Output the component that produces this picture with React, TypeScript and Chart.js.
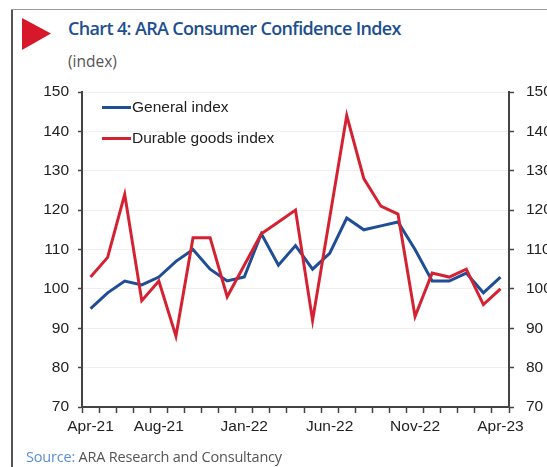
import React, { useEffect, useRef } from "react";
import { Chart, registerables } from "chart.js";

Chart.register(...registerables);

const months = [
  "Apr-21", "May-21", "Jun-21", "Jul-21", "Aug-21", "Sep-21", "Oct-21", "Nov-21", "Dec-21",
  "Jan-22", "Feb-22", "Mar-22", "Apr-22", "May-22", "Jun-22", "Jul-22", "Aug-22", "Sep-22",
  "Oct-22", "Nov-22", "Dec-22", "Jan-23", "Feb-23", "Mar-23", "Apr-23",
];
const shownMonthLabels = ["Apr-21", "Aug-21", "Jan-22", "Jun-22", "Nov-22", "Apr-23"];
const generalIndex = [
  95, 99, 102, 101, 103, 107, 110, 105, 102, 103, 114, 106, 111, 105, 109, 118, 115, 116,
  117, 110, 102, 102, 104, 99, 103,
];
const durableGoodsIndex = [
  103, 108, 124, 97, 102, 88, 113, 113, 98, 106, 114, 117, 120, 92, 118, 144, 128, 121,
  119, 93, 104, 103, 105, 96, 100,
];
const yMin = 70;
const yMax = 150;
const yStep = 10;

const BLUE = "#1f4e96";
const RED = "#d42232";
const AXIS = "#444444";
const TICK_FONT = { family: "'Liberation Sans', Arial, sans-serif", size: 15.5 };

export default function App() {
  const ref = useRef<HTMLCanvasElement | null>(null);

  useEffect(() => {
    document.body.style.margin = "0";
    const canvas = ref.current;
    if (!canvas) return;
    const chart = new Chart(canvas, {
      type: "line",
      data: {
        labels: months,
        datasets: [
          {
            label: "Durable goods index",
            data: durableGoodsIndex,
            borderColor: RED,
            backgroundColor: RED,
            borderWidth: 3,
            pointRadius: 0,
            tension: 0,
            order: 0,
            yAxisID: "y",
          },
          {
            label: "General index",
            data: generalIndex,
            borderColor: BLUE,
            backgroundColor: BLUE,
            borderWidth: 3,
            pointRadius: 0,
            tension: 0,
            order: 1,
            yAxisID: "y",
          },
        ],
      },
      options: {
        responsive: false,
        animation: false,
        devicePixelRatio: 1,
        layout: { padding: { top: 92, left: 0, right: 0, bottom: 0 } },
        plugins: { legend: { display: false }, tooltip: { enabled: false }, title: { display: false } },
        scales: {
          x: {
            type: "category",
            offset: true,
            grid: {
              offset: true,
              drawOnChartArea: false,
              drawTicks: true,
              tickLength: 6,
              tickColor: AXIS,
              tickWidth: 1.5,
            },
            border: { color: AXIS, width: 2 },
            ticks: {
              autoSkip: false,
              maxRotation: 0,
              minRotation: 0,
              padding: 4,
              color: "#222",
              font: TICK_FONT,
              callback: function (this: any, value: any, index: number) {
                const lab = months[index];
                return shownMonthLabels.includes(lab) ? lab : "";
              },
            },
            afterFit: (scale: any) => {
              scale.height = 60;
            },
          },
          y: {
            position: "left",
            min: yMin,
            max: yMax,
            ticks: { stepSize: yStep, color: "#222", font: TICK_FONT, padding: 9 },
            grid: {
              color: "#efefef",
              lineWidth: 1,
              drawTicks: true,
              tickLength: 4,
              tickColor: AXIS,
              tickWidth: 1.5,
            },
            border: { color: AXIS, width: 2 },
            afterFit: (scale: any) => {
              scale.width = 82;
            },
          },
          y2: {
            position: "right",
            min: yMin,
            max: yMax,
            ticks: { stepSize: yStep, color: "#222", font: TICK_FONT, padding: 12 },
            grid: {
              drawOnChartArea: false,
              drawTicks: true,
              tickLength: 5,
              tickColor: AXIS,
              tickWidth: 1.5,
            },
            border: { color: AXIS, width: 2 },
            afterFit: (scale: any) => {
              scale.width = 38;
            },
          },
        },
      },
    });
    return () => chart.destroy();
  }, []);

  const legendItem = (color: string, text: string, top: number) => (
    <div
      style={{
        position: "absolute",
        left: 102,
        top: top - 10,
        height: 20,
        display: "flex",
        alignItems: "center",
        fontFamily: "'Liberation Sans', Arial, sans-serif",
        fontSize: 15.5,
        color: "#222",
        whiteSpace: "nowrap",
      }}
    >
      <span style={{ display: "inline-block", width: 29, height: 3, background: color, marginRight: 1 }} />
      <span>{text}</span>
    </div>
  );

  return (
    <div
      style={{
        position: "relative",
        width: 547,
        height: 467,
        background: "#fff",
        overflow: "hidden",
      }}
    >
      <div style={{ position: "absolute", left: 11, top: 9, width: 2, height: 458, background: "#555" }} />
      <div style={{ position: "absolute", left: 11, top: 9, width: 536, height: 1, background: "#999" }} />
      <svg style={{ position: "absolute", left: 21, top: 17 }} width={32} height={34}>
        <polygon points="1,1 1,33 30,16.5" fill="#d7182a" />
      </svg>
      <div
        style={{
          position: "absolute",
          left: 68,
          top: 16,
          fontFamily: "'Open Sans', 'Noto Sans', sans-serif",
          fontWeight: 600,
          fontSize: 18,
          color: "#1d4f8f",
          whiteSpace: "nowrap",
          letterSpacing: -0.65,
        }}
      >
        Chart 4: ARA Consumer Confidence Index
      </div>
      <div
        style={{
          position: "absolute",
          left: 68,
          top: 50,
          fontFamily: "'Open Sans', 'Noto Sans', sans-serif",
          fontSize: 15.5,
          color: "#555",
          whiteSpace: "nowrap",
        }}
      >
        (index)
      </div>
      <canvas ref={ref} width={547} height={467} style={{ position: "absolute", left: 0, top: 0 }} />
      {legendItem(BLUE, "General index", 107)}
      {legendItem(RED, "Durable goods index", 138)}
      <div
        style={{
          position: "absolute",
          left: 26,
          top: 447,
          fontFamily: "'Open Sans', 'Noto Sans', sans-serif",
          fontSize: 14.5,
          color: "#555",
          whiteSpace: "nowrap",
          letterSpacing: -0.2,
        }}
      >
        <span style={{ color: "#5b8fd0" }}>Source:</span> ARA Research and Consultancy
      </div>
    </div>
  );
}
